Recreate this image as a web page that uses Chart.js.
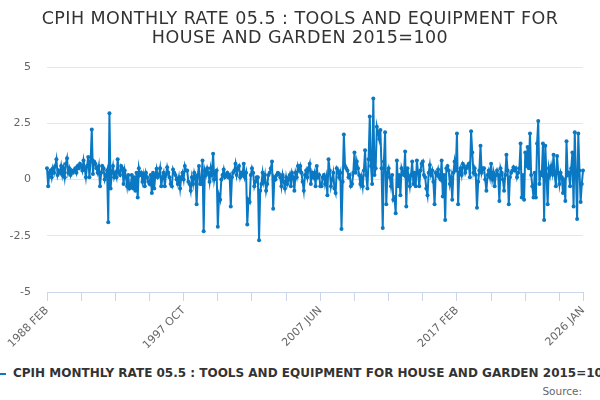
<!DOCTYPE html>
<html>
<head>
<meta charset="utf-8">
<script src="https://cdn.jsdelivr.net/npm/chart.js@4.4.1/dist/chart.umd.min.js"></script>
<style>
	html, body { margin: 0; padding: 0; background: #fff; overflow: hidden; }
	#wrap { position: relative; width: 600px; height: 400px; }
	#box { position: absolute; left: 0; top: 0; width: 600px; height: 355px; }
	#legend { position: absolute; left: -10px; top: 366px; white-space: nowrap; font: bold 12px 'DejaVu Sans', sans-serif; color: #333; }
	#legend span { display: inline-block; width: 16px; height: 2px; background: #0a78c2; vertical-align: middle; margin-right: 7px; }
	#source { position: absolute; right: 18px; top: 385px; font: 10.5px 'DejaVu Sans', sans-serif; color: #666; }
</style>
</head>
<body>
<div id="wrap">
	<div id="box"><canvas id="cpihChart"></canvas></div>
	<div id="legend"><span></span>CPIH MONTHLY RATE 05.5 : TOOLS AND EQUIPMENT FOR HOUSE AND GARDEN 2015=100</div>
	<div id="source">Source:</div>
</div>
<script>
const titleLines = ['CPIH MONTHLY RATE 05.5 : TOOLS AND EQUIPMENT FOR', 'HOUSE AND GARDEN 2015=100']
const seriesName = 'CPIH MONTHLY RATE 05.5 : TOOLS AND EQUIPMENT FOR HOUSE AND GARDEN 2015=100'
const monthNames = ['JAN', 'FEB', 'MAR', 'APR', 'MAY', 'JUN', 'JUL', 'AUG', 'SEP', 'OCT', 'NOV', 'DEC']
const startYear = 1988
const startMonth = 1 // FEB

// monthly rate, one row per year (1988 starts in Feb, 2026 is Jan only)
const rates = [
	0.5, -0.3, 0.3, 0.4, 0.1, 0.5, 0.3, 0.6, 0.9, 0.2, 0.4,
	0.3, 0.6, 0.2, 0.5, 0.1, 0.7, 0.95, 0.3, 0.5, 0.2, 0.4, 0.3,
	0.4, 0.5, 0.3, 0.6, 0.5, 0.7, 0.6, 0.4, 0.85, 0.5, 0.1, 0.6,
	1.0, 0.1, 0.8, 2.22, 0.25, 0.8, 0.7, 0.5, 0.3, 0.6, -0.3, 0.3,
	0.6, 0.5, 0.0, 0.2, 0.4, -1.9, 2.94, -0.4, 0.3, 0.6, 0.1, 0.3,
	0.1, 0.9, 0.3, 0.2, 0.6, 0.5, -0.2, 0.4, 0.1, -0.3, 0.2, -0.4,
	-0.3, 0.2, -0.4, 0.1, -0.5, 0.3, -0.8, 0.5, 0.2, 0.3, -0.1, 0.2,
	-0.3, 0.3, 0.1, -0.1, -0.2, 0.2, -0.6, 0.3, -0.4, 0.2, 0.48, 0.1,
	0.2, 0.5, -0.3, 0.1, 0.3, -0.3, 0.2, 0.55, 0.3, 0.1, -0.2, -0.3,
	0.45, 0.3, 0.2, 0.0, -0.2, 0.1, -0.4, 0.1, 0.3, 0.0, 0.6, 0.4,
	0.4, -0.1, -0.2, -0.5, 0.1, -0.2, 0.3, 0.1, -1.1, 0.2, 0.6, -0.2,
	-0.2, 0.85, -2.3, 0.4, 0.2, 0.5, 0.3, -0.1, 0.5, 0.2, 1.15, 0.0,
	0.3, 0.4, -2.1, -0.7, -0.9, 0.0, 0.2, 0.45, 0.1, 0.2, 0.3, 0.1,
	0.2, -1.2, 0.1, 0.3, 0.4, 0.7, 0.2, 0.5, 0.6, 0.1, 0.3, 0.2,
	0.7, 0.1, 0.3, -2.0, -0.9, -1.0, 0.2, 0.5, 0.3, -0.3, -0.1, 0.1,
	0.1, -2.7, -0.5, -0.2, 0.3, -0.1, 0.2, -0.5, -0.2, 0.2, 0.3, 0.5,
	0.8, -1.3, 0.1, 0.0, 0.2, 0.3, 0.25, 0.1, -0.3, 0.2, -0.1, -0.4,
	0.1, -0.2, 0.0, 0.2, -0.3, 0.3, 0.1, -0.5, 0.3, 0.1, 0.6, 0.4,
	0.6, 0.3, -0.1, -0.5, 0.2, 0.4, 0.1, 0.5, 0.7, -0.2, 0.3, 0.1,
	0.3, -0.3, 0.6, 0.1, 0.2, -0.3, -0.3, 0.1, 0.2, -0.2, 0.1, -0.7,
	0.9, 0.4, -0.3, 0.0, 0.3, -0.4, -0.6, 0.5, 0.4, 0.1, 0.3, -2.2,
	-0.1, 2.0, 0.6, 0.5, 0.4, 0.1, 0.2, -0.3, -0.2, 0.3, 1.2, 0.3,
	0.8, 0.5, 0.2, -0.2, 0.1, -0.3, 0.4, 1.3, 0.2, -0.4, 0.9, 2.8,
	0.6, -0.2, 3.6, 0.2, 0.5, 2.35, 2.1, 1.8, 2.2, 0.5, -2.15, 0.8,
	2.1, -1.1, 0.3, 0.5, 0.1, -0.3, 0.2, -0.9, -0.8, -1.5, 0.85, -0.3,
	0.2, -0.7, 0.5, 0.3, 0.2, 1.25, -1.2, 0.5, 0.1, -0.3, 0.2, 0.8,
	-0.2, 0.3, -0.3, 0.85, 0.3, -0.3, 0.4, 0.7, 0.8, 0.2, 0.1, -0.4,
	-0.7, 0.3, 0.65, 0.2, 0.4, -0.1, -1.1, 0.3, 0.2, 0.45, 0.1, 0.0,
	0.85, -0.75, 0.2, -1.8, 0.5, 0.6, 0.4, -0.2, 0.1, -0.9, 0.3, 0.8,
	0.4, 2.05, -1.1, 0.3, 0.5, 0.2, 0.7, 0.6, 0.3, 0.5, 0.6, 0.7,
	0.1, 2.15, 1.2, 0.3, 0.5, 0.2, -1.25, -0.1, 0.4, 1.5, 0.3, 0.5,
	0.5, 0.0, -0.5, 0.2, 0.4, 0.1, 0.7, 0.0, 0.3, -0.3, 0.2, 0.4,
	0.2, -0.95, 0.5, 0.3, 0.0, -0.5, 0.2, 1.1, 0.4, -1.1, 0.1, 0.3,
	0.4, 0.55, 0.4, 0.5, 0.1, 0.3, 0.5, 1.6, -0.8, 0.2, -0.9, 1.2,
	0.6, 1.45, 0.5, 2.05, 0.2, -0.3, -0.8, 0.3, -0.8, 1.6, 2.6, -0.2,
	0.3, 0.2, 1.6, -1.8, 1.5, 0.2, -1.1, 0.5, 0.2, 0.6, 0.3, 1.1,
	0.2, -0.3, 1.05, 0.3, -0.2, 0.3, 0.1, -0.6, 0.0, -0.95, 1.7, 0.2,
	0.3, -0.3, 0.5, 1.2, -1.2, 2.1, 0.2, -1.75, 2.05, 0.4, -1.0, -0.2,
	0.4
]

// labelled ticks on the x axis, plus small tick marks every 29 months
const tickLabels = ['1988 FEB', '1997 OCT', '2007 JUN', '2017 FEB', '2026 JAN']
const tickStep = 29

const yTicks = [-5, -2.5, 0, 2.5, 5]

const months = rates.map((v, i) => {
	const m = startMonth + i
	return `${startYear + Math.floor(m / 12)} ${monthNames[m % 12]}`
})

const lineColor = '#0a78c2'
const fontFamily = "'DejaVu Sans', sans-serif"

// the title is spaced out a little, which the built-in title can't do
const spacedTitle = {
	id: 'spacedTitle',
	afterDraw(chart) {
		const ctx = chart.ctx
		ctx.save()
		ctx.font = `17.5px ${fontFamily}`
		ctx.fillStyle = '#333'
		ctx.textAlign = 'center'
		ctx.textBaseline = 'alphabetic'
		ctx.letterSpacing = '0.45px'
		titleLines.forEach((line, i) => ctx.fillText(line, chart.width / 2, 23.5 + i * 19.5))
		ctx.restore()
	},
}

new Chart(document.getElementById('cpihChart'), {
	type: 'line',
	data: {
		labels: months,
		datasets: [
			{
				label: seriesName,
				data: rates,
				borderColor: lineColor,
				backgroundColor: lineColor,
				borderWidth: 2,
				pointRadius: 2,
				pointBorderWidth: 0,
				tension: 0,
			},
		],
	},
	plugins: [spacedTitle],
	options: {
		responsive: true,
		maintainAspectRatio: false,
		animation: false,
		layout: {
			padding: { left: 0, right: 17, top: 67, bottom: 0 },
		},
		plugins: {
			legend: { display: false },
			tooltip: { enabled: false },
			title: { display: false },
		},
		scales: {
			x: {
				grid: {
					display: true,
					drawOnChartArea: false,
					drawTicks: true,
					tickLength: 9,
					color: '#ccd6eb',
				},
				border: { color: '#ccd6eb' },
				ticks: {
					autoSkip: false,
					maxRotation: 45,
					minRotation: 45,
					padding: 3,
					color: '#666',
					font: { family: fontFamily, size: 11 },
					callback: function (value, index) {
						const label = months[index]
						if (tickLabels.includes(label)) return label
						if (index % tickStep === 0) return ''
						return null
					},
				},
				afterFit: (scale) => { scale.height = 63 },
			},
			y: {
				min: yTicks[0],
				max: yTicks[yTicks.length - 1],
				afterBuildTicks: (scale) => { scale.ticks = yTicks.map(v => ({ value: v })) },
				grid: { color: '#e6e6e6', drawTicks: false },
				border: { display: false },
				ticks: {
					padding: 16,
					color: '#666',
					font: { family: fontFamily, size: 11 },
				},
				afterFit: (scale) => { scale.width = 47 },
			},
		},
	},
})
</script>
</body>
</html>
